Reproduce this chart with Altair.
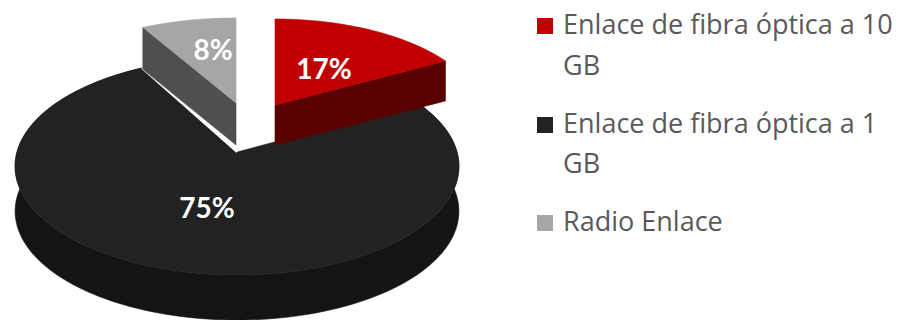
import numpy as np
import pandas as pd
import altair as alt

# ---- chart values ----
series = ["Enlace de fibra óptica a 10 GB", "Enlace de fibra óptica a 1 GB", "Radio Enlace"]
values = [17, 75, 8]
top_colors = ["#c00000", "#222222", "#a6a6a6"]
side_colors = ["#5a0000", "#141414", "#4f4f4f"]
pct_labels = ["17%", "75%", "8%"]
pct_x = [324, 207, 213]
pct_y = [71, 210, 52]
legend_lines = ["Enlace de fibra óptica a 10", "GB", "Enlace de fibra óptica a 1", "GB", "Radio Enlace"]
legend_line_y = [26, 67, 125, 165, 223]
legend_swatch_y = [26, 125, 223]

# ---- slice geometry: apex, scale and depth of each exploded slice ----
apex_x = [275, 237, 236]
apex_y = [105, 152, 103]
scale_x = [0.94, 1.0, 0.98]
scale_y = [0.91, 1.0, 0.90]
depth = [40, 45, 42]
A, B, K = 220.0, 106.9, 0.131


def rim(i, deg):
    t = np.radians(deg)
    w = 1 + K * np.cos(t)
    return (apex_x[i] + scale_x[i] * A * np.sin(t) / w,
            apex_y[i] - scale_y[i] * B * np.cos(t) / w)


starts = np.cumsum([0] + values[:-1]) * 3.6
ends = np.cumsum(values) * 3.6


def frame(xs, ys):
    return pd.DataFrame({"x": xs, "y": ys, "i": range(len(xs))})


def top_face(i):
    xs, ys = rim(i, np.linspace(starts[i], ends[i], 160))
    return frame(np.r_[apex_x[i], xs, apex_x[i]], np.r_[apex_y[i], ys, apex_y[i]])


def outer_side(i):
    xs, ys = rim(i, np.linspace(starts[i], ends[i], 160))
    return frame(np.r_[xs, xs[::-1]], np.r_[ys, ys[::-1] + depth[i]])


def radial_side(i, deg):
    x, y = rim(i, deg)
    xs = [apex_x[i], x, x, apex_x[i], apex_x[i]]
    ys = [apex_y[i], y, y + depth[i], apex_y[i] + depth[i], apex_y[i]]
    return frame(xs, ys)


def radial_edge(i, deg):
    x, y = rim(i, deg)
    return frame([apex_x[i], x], [apex_y[i], y])


X = alt.X("x:Q", scale=alt.Scale(domain=[8, 909], nice=False, zero=False), axis=None)
Y = alt.Y("y:Q", scale=alt.Scale(domain=[320, 8], nice=False, zero=False), axis=None)


def face(df, color):
    return alt.Chart(df).mark_line(
        fill=color, stroke=color, strokeWidth=0.6, strokeJoin="round", clip=True
    ).encode(x=X, y=Y, order="i:Q")


layers = [
    face(outer_side(1), side_colors[1]),
    face(top_face(1), top_colors[1]),
    alt.Chart(radial_edge(1, ends[1])).mark_line(color="#ffffff", strokeWidth=2).encode(x=X, y=Y, order="i:Q"),
    face(radial_side(2, starts[2]), side_colors[2]),
    face(top_face(2), top_colors[2]),
    face(radial_side(0, ends[0]), side_colors[0]),
    face(top_face(0), top_colors[0]),
]

pct = pd.DataFrame({"x": pct_x, "y": pct_y, "t": pct_labels})
layers.append(alt.Chart(pct).mark_text(
    font="Lato", fontWeight="bold", fontSize=28, color="#ffffff", align="center", baseline="middle"
).encode(x=X, y=Y, text="t:N"))

swatches = pd.DataFrame({"x": [545] * 3, "y": legend_swatch_y, "c": top_colors, "s": series})
layers.append(alt.Chart(swatches).mark_square(size=256, opacity=1).encode(
    x=X, y=Y, fill=alt.Fill("c:N", scale=None), detail="s:N"))

leg = pd.DataFrame({"x": [563] * 5, "y": legend_line_y, "t": legend_lines})
layers.append(alt.Chart(leg).mark_text(
    font="Open Sans", fontSize=27, color="#595959", align="left", baseline="middle"
).encode(x=X, y=Y, text="t:N"))

chart = alt.layer(*layers).properties(
    width=901, height=312, padding=0, autosize=alt.AutoSizeParams(type="none"),
    background="#ffffff"
).configure_view(stroke=None)

chart.save("out.html", embed_options={"renderer": "svg", "actions": False})
